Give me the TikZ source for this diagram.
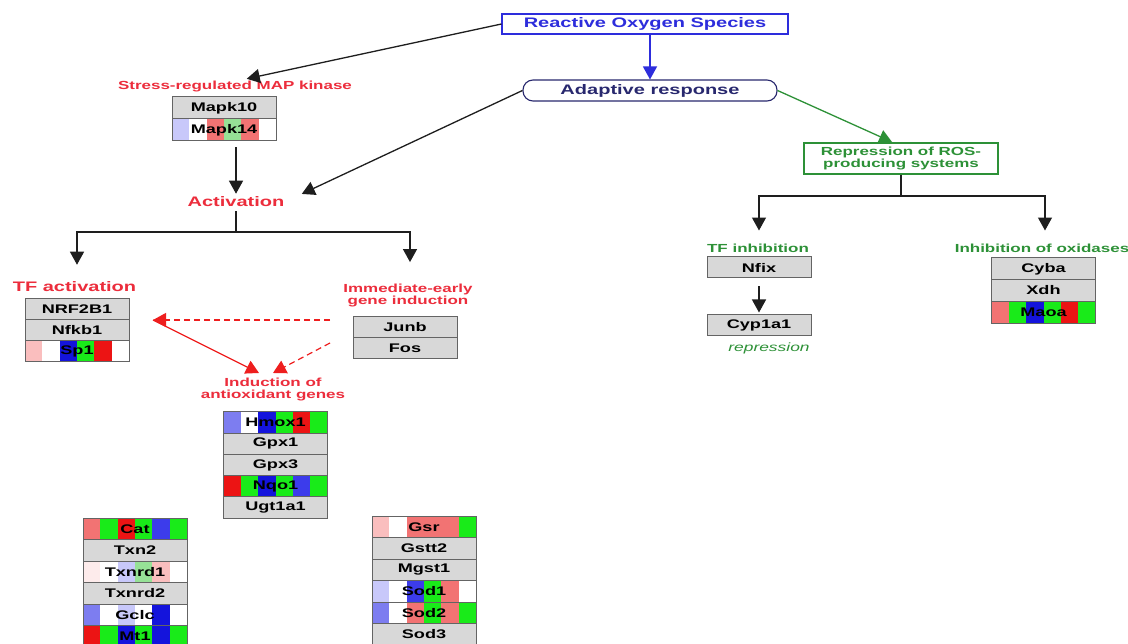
\documentclass[tikz,border=0pt]{standalone}
\usepackage{fontspec}
\setmainfont{Liberation Sans}[FakeStretch=1.45]
\usetikzlibrary{arrows.meta,calc}

% palette
\definecolor{rosblue}{RGB}{45,45,220}
\definecolor{navy}{RGB}{40,40,110}
\definecolor{pwred}{RGB}{236,45,60}
\definecolor{arred}{RGB}{238,30,30}
\definecolor{pwgreen}{RGB}{45,145,55}
\definecolor{rowgray}{RGB}{216,216,216}
\definecolor{edge}{RGB}{100,100,100}
\definecolor{linec}{RGB}{30,30,30}
% expression stripes
\definecolor{cR}{RGB}{236,20,20}
\definecolor{cG}{RGB}{25,235,25}
\definecolor{cB}{RGB}{20,20,220}
\definecolor{cMB}{RGB}{60,60,235}
\definecolor{cLB}{RGB}{125,125,240}
\definecolor{cPB}{RGB}{200,200,250}
\definecolor{cLR}{RGB}{242,115,115}
\definecolor{cPR}{RGB}{250,190,190}
\definecolor{cVR}{RGB}{253,235,235}
\definecolor{cLG}{RGB}{150,225,150}

\newcommand\bigfont{\fontsize{13.8}{15}\selectfont\bfseries}
\newcommand\smallfont{\fontsize{11.7}{11.5}\selectfont\bfseries}
\newcommand\genefont{\fontsize{12.5}{13}\selectfont\bfseries}
\newcommand\notefont{\fontsize{12}{13}\selectfont\itshape}

\begin{document}
\begin{tikzpicture}[x=1pt,y=-1pt,
  gene/.style={draw=edge, line width=1pt, fill=rowgray, minimum width=104pt,
    minimum height=21.5pt, inner sep=0pt, font=\genefont, text=black},
  stripes/.style={path picture={
    \foreach \c [count=\i] in {#1} {
      \pgfmathsetmacro\sa{(\i-1)/6}
      \pgfmathsetmacro\sb{\i/6}
      \fill[\c] ($(path picture bounding box.south west)!\sa!(path picture bounding box.south east)$)
        rectangle ($(path picture bounding box.north west)!\sb!(path picture bounding box.north east)$);
    }}},
  redlbl/.style={inner sep=0pt, text=pwred, align=center},
  greenlbl/.style={inner sep=0pt, text=pwgreen, align=center},
  tip/.style={-{Triangle[length=13pt,width=14pt]}},
  arr/.style={draw=linec, line width=1.3pt, tip},
  plain/.style={draw=linec, line width=1.3pt},
  redarr/.style={draw=arred, line width=1.2pt, tip},
  reddash/.style={redarr, dash pattern=on 6pt off 4pt},
  greenarr/.style={draw=pwgreen, line width=1.3pt, tip},
  bluearr/.style={draw=rosblue, line width=1.3pt, tip}
]
\useasboundingbox[fill=white] (0,0) rectangle (1128,644);

% top level
\node[draw=rosblue, line width=1.1pt, minimum width=286pt, minimum height=20pt,
  inner sep=0pt, text=rosblue, font=\bigfont] (ros) at (645,24) {Reactive Oxygen Species};
\node[draw=navy, line width=1.1pt, rounded corners=10pt, minimum width=254pt,
  minimum height=21pt, inner sep=0pt, text=navy, font=\bigfont] (adapt) at (650,90.5) {Adaptive response};

% stress-regulated kinases
\node[redlbl, font=\smallfont] (stress) at (235,87) {Stress-regulated MAP kinase};
\node[gene, minimum height=22pt] (mapk10) at (224,108) {Mapk10};
\node[gene, minimum height=22pt, stripes={cPB,white,cLR,cLG,cLR,white}] (mapk14) at (224,130) {Mapk14};
\node[redlbl, font=\bigfont] (act) at (236,202) {Activation};

% transcription factors
\node[redlbl, font=\bigfont] (tfact) at (74.5,287) {TF activation};
\node[gene, minimum height=21.3pt] (nrf) at (77,308.7) {NRF2B1};
\node[gene, minimum height=21.3pt] (nfkb) at (77,330) {Nfkb1};
\node[gene, minimum height=21.3pt, stripes={cPR,white,cB,cG,cR,white}] (sp1) at (77,351.3) {Sp1};

% immediate-early genes
\node[redlbl, font=\smallfont] (ieg) at (408,295.5) {Immediate-early\\gene induction};
\node[gene, minimum height=21pt] (junb) at (405,327.5) {Junb};
\node[gene, minimum height=21pt] (fos) at (405,348.5) {Fos};

% antioxidant genes
\node[redlbl, font=\smallfont] (induct) at (273,389.5) {Induction of\\antioxidant genes};
\node[gene, minimum height=21.2pt, stripes={cLB,white,cB,cG,cR,cG}] (hmox) at (275.5,422.6) {Hmox1};
\node[gene, minimum height=21.2pt] (gpx1) at (275.5,443.8) {Gpx1};
\node[gene, minimum height=21.2pt] (gpx3) at (275.5,465) {Gpx3};
\node[gene, minimum height=21.2pt, stripes={cR,cG,cB,cG,cMB,cG}] (nqo) at (275.5,486.2) {Nqo1};
\node[gene, minimum height=21.2pt] (ugt) at (275.5,507.4) {Ugt1a1};

\node[gene, stripes={cLR,cG,cR,cG,cMB,cG}] (cat) at (135,528.75) {Cat};
\node[gene] (txn2) at (135,550.25) {Txn2};
\node[gene, stripes={cVR,white,cPB,cLG,cPR,white}] (txnrd1) at (135,571.75) {Txnrd1};
\node[gene] (txnrd2) at (135,593.25) {Txnrd2};
\node[gene, stripes={cLB,white,cPB,white,cB,white}] (gclc) at (135,614.75) {Gclc};
\node[gene, stripes={cR,cG,cB,cG,cB,cG}] (mt1) at (135,636.25) {Mt1};

\node[gene, stripes={cPR,white,cLR,cLR,cLR,cG}] (gsr) at (424,526.75) {Gsr};
\node[gene] (gstt2) at (424,548.25) {Gstt2};
\node[gene] (mgst1) at (424,569.75) {Mgst1};
\node[gene, stripes={cPB,white,cMB,cG,cLR,white}] (sod1) at (424,591.25) {Sod1};
\node[gene, stripes={cLB,white,cLR,cG,cLR,cG}] (sod2) at (424,612.75) {Sod2};
\node[gene] (sod3) at (424,634.25) {Sod3};

% repression branch
\node[draw=pwgreen, line width=1.1pt, minimum width=194pt, minimum height=31pt,
  inner sep=0pt, text=pwgreen, align=center, font=\smallfont] (repr) at (901,158.5)
  {Repression of ROS-\\producing systems};
\node[greenlbl, font=\smallfont] (tfinh) at (758,248) {TF inhibition};
\node[gene, minimum height=21pt] (nfix) at (759,267.5) {Nfix};
\node[gene, minimum height=21pt] (cyp) at (759,325.5) {Cyp1a1};
\node[greenlbl, font=\notefont] (repnote) at (769,348) {repression};
\node[greenlbl, font=\smallfont] (oxid) at (1042,248) {Inhibition of oxidases};
\node[gene, minimum height=21.7pt] (cyba) at (1043.5,268.8) {Cyba};
\node[gene, minimum height=21.7pt] (xdh) at (1043.5,290.5) {Xdh};
\node[gene, minimum height=21.7pt, stripes={cLR,cG,cB,cG,cR,cG}] (maoa) at (1043.5,312.2) {Maoa};

% junctions and free arrow ends
\coordinate (actsplit) at (236,232);
\coordinate (repsplit) at (901,196);
\coordinate (iegsrc) at (330,320);
\coordinate (iegsrc2) at (330,343);
\coordinate (tfhub) at (153,320);
\coordinate (indtipa) at (259,373);
\coordinate (indtipb) at (273,373);

% connectors
\draw[arr, shorten >=12pt] (ros.west) -- (stress.north);
\draw[bluearr] (ros.south -| adapt.north) -- (adapt.north);
\draw[arr, shorten >=19pt] (adapt.west) -- (act.east);
\draw[greenarr, shorten >=1pt] (adapt.east) -- ($(repr.north)+(-8,0)$);
\draw[arr, shorten <=6pt, shorten >=3pt] (act.north |- mapk14.south) -- (act.north);

\draw[plain, shorten <=4pt] (act.south) -- (actsplit);
\draw[arr, shorten >=17pt] (actsplit) -| ($(tfact.north)+(2.5,0)$);
\draw[arr, shorten >=22pt] (actsplit) -| ($(ieg.north)+(2,0)$);

\draw[plain] (repr.south) -- (repsplit);
\draw[arr, shorten >=13pt] (repsplit) -| ($(tfinh.north)+(1,0)$);
\draw[arr, shorten >=13pt] (repsplit) -| ($(oxid.north)+(3,0)$);
\draw[arr, shorten <=8pt, shorten >=2pt] (nfix.south) -- (cyp.north);

\draw[reddash] (iegsrc) -- (tfhub);
\draw[redarr] (tfhub) -- (indtipa);
\draw[reddash] (iegsrc2) -- (indtipb);
\end{tikzpicture}
\end{document}
